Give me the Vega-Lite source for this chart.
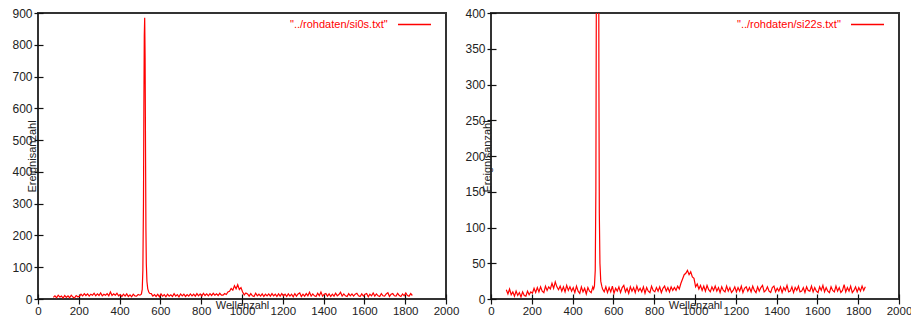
{
"$schema": "https://vega.github.io/schema/vega-lite/v6.json",
"padding": {"left": 10, "top": 6, "right": 5, "bottom": 5},
"background": "white",
"config": {
 "view": {"stroke": "#333333", "strokeWidth": 2},
 "axis": {"domain": false, "grid": false, "offset": -5, "tickColor": "#111111", "tickWidth": 1.2, "labelFont": "Liberation Sans", "labelColor": "#222222", "labelFlush": false, "labelOverlap": false, "labelPadding": 2, "titleFont": "Liberation Sans", "titleFontSize": 11, "titleFontWeight": "normal", "titleColor": "#222222", "format": "d"},
 "axisX": {"tickSize": 10, "labelFontSize": 11.5, "labelPadding": 1, "titleY": 14, "titleX": 204, "titleBaseline": "alphabetic", "titleAlign": "center"},
 "axisY": {"tickSize": 9, "labelFontSize": 12, "titleY": 143, "titleBaseline": "alphabetic", "titleAlign": "center", "titleAngle": -90},
 "legend": {"orient": "none", "titleOrient": "left", "titleAnchor": "middle", "titleBaseline": "line-top", "titleLineHeight": 16, "titleFont": "Liberation Sans", "titleFontSize": 11, "titleFontWeight": "normal", "titleColor": "#ff0000", "titlePadding": 9, "symbolType": "stroke", "symbolSize": 1089, "symbolStrokeWidth": 1.5, "labelFontSize": 0, "labelOffset": 0, "padding": 0, "titleLimit": 300}
},
"spacing": 45,
"bounds": "flush",
"resolve": {"scale": {"color": "independent"}, "legend": {"color": "independent"}},
"datasets": {
"a": [{"x":75,"y":5},{"x":83,"y":10},{"x":91,"y":4},{"x":99,"y":12},{"x":107,"y":6},{"x":115,"y":9},{"x":123,"y":3},{"x":131,"y":11},{"x":139,"y":5},{"x":147,"y":10},{"x":155,"y":4},{"x":163,"y":12},{"x":171,"y":6},{"x":179,"y":3},{"x":187,"y":11},{"x":195,"y":7},
{"x":203,"y":8},{"x":211,"y":15},{"x":219,"y":10},{"x":227,"y":17},{"x":235,"y":11},{"x":243,"y":16},{"x":251,"y":9},{"x":259,"y":15},{"x":267,"y":12},{"x":275,"y":18},{"x":283,"y":10},{"x":291,"y":16},{"x":299,"y":11},{"x":307,"y":19},{"x":315,"y":10},{"x":323,"y":15},{"x":331,"y":12},{"x":339,"y":17},{"x":347,"y":10},{"x":355,"y":22},{"x":363,"y":11},{"x":371,"y":16},{"x":379,"y":12},{"x":387,"y":18},{"x":395,"y":10},
{"x":403,"y":14},{"x":411,"y":8},{"x":419,"y":15},{"x":427,"y":9},{"x":435,"y":16},{"x":443,"y":8},{"x":451,"y":13},{"x":459,"y":7},{"x":467,"y":15},{"x":475,"y":10},{"x":483,"y":9},{"x":491,"y":14},{"x":499,"y":12},
{"x":503,"y":13},{"x":507,"y":16},{"x":511,"y":30},{"x":514,"y":90},{"x":517,"y":300},{"x":519,"y":600},{"x":521,"y":830},{"x":523,"y":885},{"x":525,"y":760},{"x":527,"y":480},{"x":529,"y":220},{"x":531,"y":110},{"x":534,"y":55},{"x":538,"y":32},{"x":543,"y":22},{"x":547,"y":18},
{"x":555,"y":17},{"x":563,"y":9},{"x":571,"y":14},{"x":579,"y":8},{"x":587,"y":15},{"x":595,"y":7},{"x":603,"y":16},{"x":611,"y":9},{"x":619,"y":14},{"x":627,"y":7},{"x":635,"y":15},{"x":643,"y":9},{"x":651,"y":13},{"x":659,"y":8},{"x":667,"y":17},{"x":675,"y":9},{"x":683,"y":14},{"x":691,"y":7},{"x":699,"y":16},{"x":707,"y":10},{"x":715,"y":15},{"x":723,"y":8},{"x":731,"y":14},{"x":739,"y":9},{"x":747,"y":16},{"x":755,"y":10},{"x":763,"y":15},{"x":771,"y":9},{"x":779,"y":17},{"x":787,"y":10},{"x":795,"y":16},{"x":803,"y":9},{"x":811,"y":18},{"x":819,"y":11},{"x":827,"y":16},{"x":835,"y":10},{"x":843,"y":17},{"x":851,"y":11},{"x":859,"y":18},{"x":867,"y":12},{"x":875,"y":16},{"x":883,"y":11},{"x":891,"y":18},{"x":899,"y":12},
{"x":907,"y":12},{"x":915,"y":17},{"x":923,"y":14},{"x":931,"y":22},{"x":939,"y":24},{"x":947,"y":33},{"x":955,"y":28},{"x":963,"y":42},{"x":971,"y":32},{"x":979,"y":45},{"x":987,"y":30},{"x":995,"y":36},{"x":1003,"y":22},{"x":1011,"y":13},{"x":1019,"y":19},
{"x":1027,"y":16},{"x":1035,"y":9},{"x":1043,"y":17},{"x":1051,"y":10},{"x":1059,"y":8},{"x":1067,"y":18},{"x":1075,"y":10},{"x":1083,"y":15},{"x":1091,"y":9},{"x":1099,"y":16},
{"x":1107,"y":8},{"x":1115,"y":15},{"x":1123,"y":10},{"x":1131,"y":16},{"x":1139,"y":9},{"x":1147,"y":17},{"x":1155,"y":10},{"x":1163,"y":15},{"x":1171,"y":8},{"x":1179,"y":16},
{"x":1187,"y":9},{"x":1195,"y":17},{"x":1203,"y":10},{"x":1211,"y":15},{"x":1219,"y":8},{"x":1227,"y":16},{"x":1235,"y":9},{"x":1243,"y":15},{"x":1251,"y":7},{"x":1259,"y":17},
{"x":1267,"y":9},{"x":1275,"y":16},{"x":1283,"y":19},{"x":1291,"y":8},{"x":1299,"y":15},{"x":1307,"y":9},{"x":1315,"y":17},{"x":1323,"y":10},{"x":1331,"y":21},{"x":1339,"y":9},
{"x":1347,"y":16},{"x":1355,"y":10},{"x":1363,"y":8},{"x":1371,"y":18},{"x":1379,"y":10},{"x":1387,"y":22},{"x":1395,"y":9},{"x":1403,"y":15},{"x":1411,"y":17},{"x":1419,"y":9},
{"x":1427,"y":16},{"x":1435,"y":8},{"x":1443,"y":15},{"x":1451,"y":9},{"x":1459,"y":18},{"x":1467,"y":10},{"x":1475,"y":14},{"x":1483,"y":21},{"x":1491,"y":9},{"x":1499,"y":16},
{"x":1507,"y":10},{"x":1515,"y":8},{"x":1523,"y":17},{"x":1531,"y":10},{"x":1539,"y":16},{"x":1547,"y":9},{"x":1555,"y":15},{"x":1563,"y":18},{"x":1571,"y":10},{"x":1579,"y":8},
{"x":1587,"y":16},{"x":1595,"y":9},{"x":1603,"y":15},{"x":1611,"y":17},{"x":1619,"y":7},{"x":1627,"y":15},{"x":1635,"y":10},{"x":1643,"y":19},{"x":1651,"y":9},{"x":1659,"y":16},
{"x":1667,"y":10},{"x":1675,"y":8},{"x":1683,"y":17},{"x":1691,"y":10},{"x":1699,"y":9},{"x":1707,"y":16},{"x":1715,"y":20},{"x":1723,"y":8},{"x":1731,"y":15},{"x":1739,"y":17},
{"x":1747,"y":10},{"x":1755,"y":9},{"x":1763,"y":18},{"x":1771,"y":11},{"x":1779,"y":8},{"x":1787,"y":16},{"x":1795,"y":10},{"x":1803,"y":19},{"x":1811,"y":11},{"x":1819,"y":9},
{"x":1827,"y":17},{"x":1835,"y":11}],
"b": [{"x":75,"y":13},{"x":83,"y":7},{"x":91,"y":14},{"x":99,"y":6},{"x":107,"y":10},{"x":115,"y":4},{"x":123,"y":11},{"x":131,"y":5},{"x":139,"y":9},{"x":147,"y":3},{"x":155,"y":10},{"x":163,"y":5},{"x":171,"y":4},{"x":179,"y":11},{"x":187,"y":6},{"x":195,"y":10},
{"x":203,"y":8},{"x":211,"y":15},{"x":219,"y":9},{"x":227,"y":16},{"x":235,"y":10},{"x":243,"y":17},{"x":251,"y":11},{"x":259,"y":9},{"x":267,"y":18},{"x":275,"y":12},{"x":283,"y":17},{"x":291,"y":14},{"x":299,"y":22},{"x":307,"y":15},{"x":315,"y":24},{"x":323,"y":17},{"x":331,"y":13},{"x":339,"y":18},{"x":347,"y":11},{"x":355,"y":17},{"x":363,"y":10},{"x":371,"y":19},{"x":379,"y":12},{"x":387,"y":17},{"x":395,"y":11},
{"x":403,"y":16},{"x":411,"y":9},{"x":419,"y":18},{"x":427,"y":11},{"x":435,"y":8},{"x":443,"y":17},{"x":451,"y":10},{"x":459,"y":15},{"x":467,"y":7},{"x":475,"y":16},{"x":483,"y":11},{"x":491,"y":9},{"x":499,"y":17},
{"x":503,"y":14},{"x":507,"y":18},{"x":511,"y":40},{"x":514,"y":150},{"x":517,"y":500},{"x":519,"y":900},{"x":521,"y":1200},{"x":523,"y":1250},{"x":525,"y":1100},{"x":527,"y":700},{"x":529,"y":300},{"x":531,"y":120},{"x":534,"y":50},{"x":538,"y":25},{"x":543,"y":18},{"x":547,"y":14},
{"x":555,"y":10},{"x":563,"y":17},{"x":571,"y":9},{"x":579,"y":16},{"x":587,"y":10},{"x":595,"y":18},{"x":603,"y":8},{"x":611,"y":15},{"x":619,"y":11},{"x":627,"y":17},{"x":635,"y":9},{"x":643,"y":16},{"x":651,"y":19},{"x":659,"y":10},{"x":667,"y":15},{"x":675,"y":8},{"x":683,"y":17},{"x":691,"y":11},{"x":699,"y":16},{"x":707,"y":9},{"x":715,"y":18},{"x":723,"y":11},{"x":731,"y":15},{"x":739,"y":10},{"x":747,"y":17},{"x":755,"y":8},{"x":763,"y":16},{"x":771,"y":11},{"x":779,"y":9},{"x":787,"y":18},{"x":795,"y":12},{"x":803,"y":10},{"x":811,"y":16},{"x":819,"y":11},{"x":827,"y":17},{"x":835,"y":9},{"x":843,"y":15},{"x":851,"y":18},{"x":859,"y":11},{"x":867,"y":16},{"x":875,"y":10},{"x":883,"y":17},{"x":891,"y":12},{"x":899,"y":16},
{"x":907,"y":12},{"x":915,"y":18},{"x":923,"y":14},{"x":931,"y":22},{"x":939,"y":28},{"x":947,"y":34},{"x":955,"y":36},{"x":963,"y":40},{"x":971,"y":34},{"x":979,"y":38},{"x":987,"y":31},{"x":995,"y":29},{"x":1003,"y":17},{"x":1011,"y":21},{"x":1019,"y":14},
{"x":1027,"y":19},{"x":1035,"y":12},{"x":1043,"y":18},{"x":1051,"y":11},{"x":1059,"y":19},{"x":1067,"y":13},{"x":1075,"y":10},{"x":1083,"y":17},{"x":1091,"y":12},{"x":1099,"y":18},
{"x":1107,"y":11},{"x":1115,"y":16},{"x":1123,"y":9},{"x":1131,"y":17},{"x":1139,"y":12},{"x":1147,"y":10},{"x":1155,"y":18},{"x":1163,"y":11},{"x":1171,"y":16},{"x":1179,"y":9},
{"x":1187,"y":12},{"x":1195,"y":17},{"x":1203,"y":10},{"x":1211,"y":16},{"x":1219,"y":11},{"x":1227,"y":18},{"x":1235,"y":9},{"x":1243,"y":15},{"x":1251,"y":17},{"x":1259,"y":11},
{"x":1267,"y":16},{"x":1275,"y":10},{"x":1283,"y":18},{"x":1291,"y":12},{"x":1299,"y":9},{"x":1307,"y":17},{"x":1315,"y":11},{"x":1323,"y":16},{"x":1331,"y":19},{"x":1339,"y":10},
{"x":1347,"y":12},{"x":1355,"y":17},{"x":1363,"y":11},{"x":1371,"y":9},{"x":1379,"y":16},{"x":1387,"y":18},{"x":1395,"y":10},{"x":1403,"y":15},{"x":1411,"y":11},{"x":1419,"y":17},
{"x":1427,"y":9},{"x":1435,"y":16},{"x":1443,"y":12},{"x":1451,"y":19},{"x":1459,"y":10},{"x":1467,"y":11},{"x":1475,"y":17},{"x":1483,"y":9},{"x":1491,"y":16},{"x":1499,"y":12},
{"x":1507,"y":18},{"x":1515,"y":10},{"x":1523,"y":11},{"x":1531,"y":16},{"x":1539,"y":9},{"x":1547,"y":17},{"x":1555,"y":12},{"x":1563,"y":11},{"x":1571,"y":18},{"x":1579,"y":10},
{"x":1587,"y":16},{"x":1595,"y":11},{"x":1603,"y":9},{"x":1611,"y":17},{"x":1619,"y":12},{"x":1627,"y":19},{"x":1635,"y":10},{"x":1643,"y":16},{"x":1651,"y":11},{"x":1659,"y":9},
{"x":1667,"y":17},{"x":1675,"y":12},{"x":1683,"y":10},{"x":1691,"y":18},{"x":1699,"y":11},{"x":1707,"y":16},{"x":1715,"y":9},{"x":1723,"y":12},{"x":1731,"y":20},{"x":1739,"y":10},
{"x":1747,"y":16},{"x":1755,"y":11},{"x":1763,"y":18},{"x":1771,"y":9},{"x":1779,"y":12},{"x":1787,"y":17},{"x":1795,"y":10},{"x":1803,"y":16},{"x":1811,"y":11},{"x":1819,"y":18},
{"x":1827,"y":12},{"x":1835,"y":17}]
},
"hconcat": [
 {"width": 408, "height": 286, "data": {"name": "a"},
  "mark": {"type": "line", "strokeWidth": 1.2, "clip": true},
  "encoding": {
   "x": {"field": "x", "type": "quantitative", "scale": {"domain": [0, 2000], "nice": false}, "axis": {"title": "Wellenzahl", "values": [0,200,400,600,800,1000,1200,1400,1600,1800,2000]}},
   "y": {"field": "y", "type": "quantitative", "scale": {"domain": [0, 900], "nice": false}, "axis": {"title": "Ereignisanzahl", "values": [0,100,200,300,400,500,600,700,800,900], "titleX": -8}},
   "color": {"datum": "si0s", "type": "nominal", "scale": {"range": ["#ff0000"]}, "legend": {"title": "\"../rohdaten/si0s.txt\"", "labelExpr": "''", "legendX": 252, "legendY": -6}}
  }},
 {"width": 408, "height": 286, "data": {"name": "b"},
  "mark": {"type": "line", "strokeWidth": 1.2, "clip": true},
  "encoding": {
   "x": {"field": "x", "type": "quantitative", "scale": {"domain": [0, 2000], "nice": false}, "axis": {"title": "Wellenzahl", "values": [0,200,400,600,800,1000,1200,1400,1600,1800,2000]}},
   "y": {"field": "y", "type": "quantitative", "scale": {"domain": [0, 400], "nice": false}, "axis": {"title": "Ereignisanzahl", "values": [0,50,100,150,200,250,300,350,400], "titleX": -6}},
   "color": {"datum": "si22s", "type": "nominal", "scale": {"range": ["#ff0000"]}, "legend": {"title": "\"../rohdaten/si22s.txt\"", "labelExpr": "''", "legendX": 246, "legendY": -6}}
  }}
]
}
